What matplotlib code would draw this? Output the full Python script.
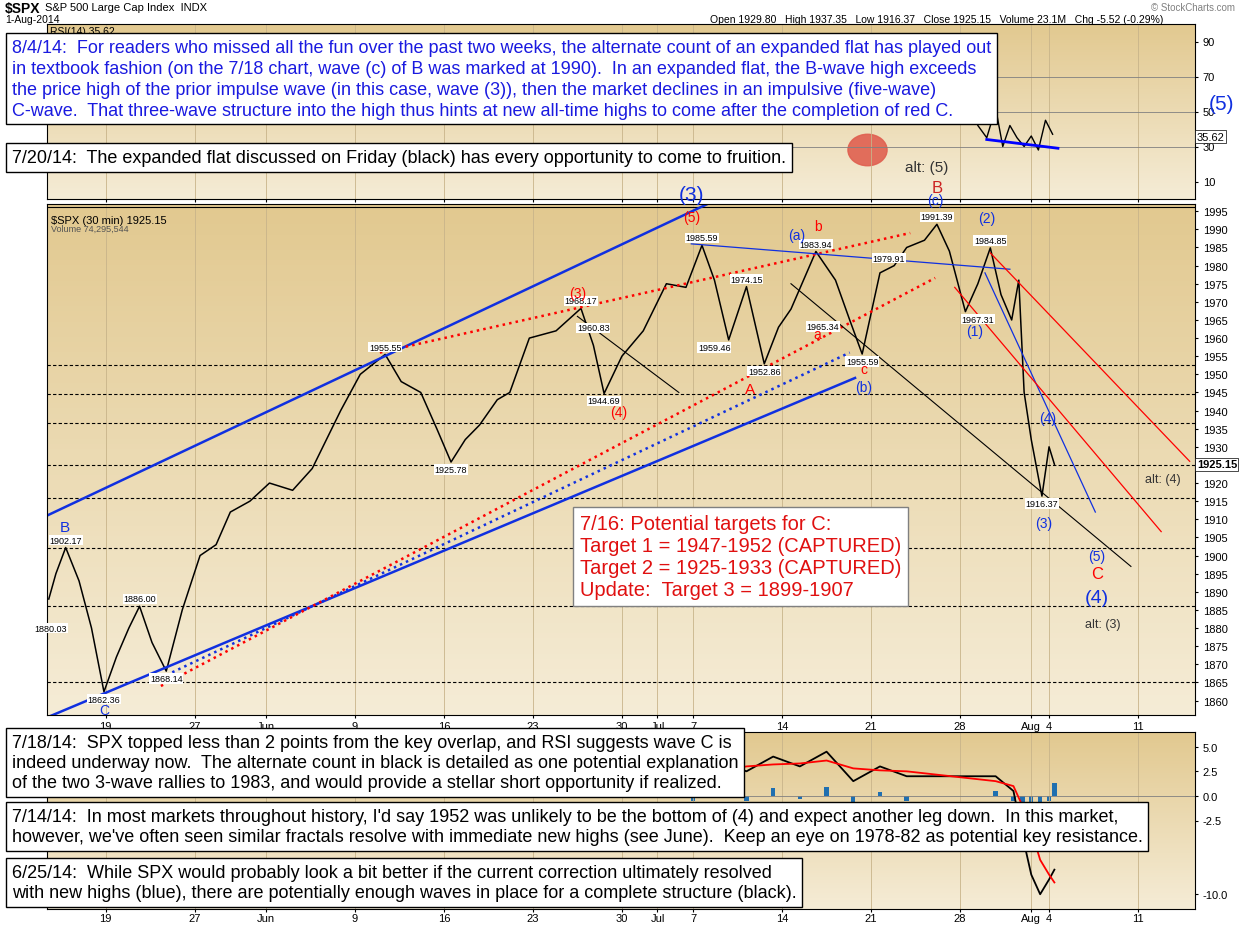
import matplotlib
matplotlib.use("Agg")
import matplotlib.pyplot as plt
import numpy as np
from matplotlib.patches import Ellipse

plt.rcParams['font.family'] = ['Liberation Sans', 'DejaVu Sans']

# price waypoints (trading-day index, price)
px_idx = [0.8, 1.2, 1.75, 2.5, 3.2, 3.9, 4.6, 5.3, 5.9, 6.6, 7.4, 8.3, 9.3, 10.2, 11.0, 12.1,
          13.2, 14.5, 15.6, 17.2, 18.3, 19.7, 20.6, 21.7, 22.6, 23.4, 24.2, 25.0, 26.0, 26.7,
          27.8, 29.3, 30.7, 31.4, 32.0, 33.0, 34.2, 35.5, 36.6, 37.5, 38.2, 39.0, 40.0, 41.0,
          41.8, 42.5, 43.9, 45.0, 45.8, 46.5, 47.5, 48.3, 49.0, 50.0, 50.7, 51.4, 52.3, 53.0,
          53.7, 54.3, 54.9, 55.3, 55.6, 56.0, 56.6, 57.0, 57.3]
px_val = [1888, 1895, 1902.2, 1893, 1880, 1862.4, 1872, 1880, 1886, 1876, 1868.1, 1885, 1900,
          1903, 1912, 1915, 1920, 1918, 1924, 1940, 1950, 1955.5, 1948, 1945, 1935, 1925.8,
          1932, 1936, 1943, 1945, 1960, 1962, 1968.2, 1958, 1944.7, 1955, 1962, 1975, 1974,
          1985.6, 1976, 1959.5, 1974.2, 1952.9, 1963, 1968, 1983.9, 1976, 1965, 1955.6, 1978,
          1980, 1985, 1987, 1991.4, 1984, 1967.3, 1975, 1984.9, 1972, 1965, 1976, 1945, 1932,
          1916.4, 1930, 1925.2]

rsi_idx = [53.0, 53.5, 54.0, 54.4, 54.8, 55.2, 55.6, 56.0, 56.4, 56.8, 57.2]
rsi_val = [42, 35, 52, 30, 42, 35, 30, 36, 28, 45, 37]

macd_idx = [37, 38.5, 40, 41.5, 43, 44.5, 46, 47.5, 49, 54, 55, 55.5, 56, 56.5, 57, 57.3]
macd_val = [1.0, 3.5, 2.5, 4.0, 3.0, 4.5, 1.5, 3.0, 2.0, 2.0, 0.5, -4.0, -8.0, -10.0, -8.5, -7.5]
sig_val = [1.5, 2.5, 3.0, 3.2, 3.3, 3.6, 2.8, 2.6, 2.5, 1.5, 1.0, -1.0, -3.5, -6.5, -8.0, -8.8]

tick_pos = [4, 9, 13, 18, 23, 28, 33, 35, 37, 42, 47, 52, 56, 57, 62]
tick_lab = ['19', '27', 'Jun', '9', '16', '23', '30', 'Jul', '7', '14', '21', '28', 'Aug', '4', '11']

W, H = 1240, 928
fig = plt.figure(figsize=(12.4, 9.28), dpi=100)
fig.patch.set_facecolor('white')
XL = (0.7, 65.2)


def axes_px(l, t, r, b):
    return fig.add_axes([l / W, 1 - b / H, (r - l) / W, (b - t) / H])


def bg(ax, ylo, yhi):
    grad = np.linspace(0, 1, 100).reshape(-1, 1)
    ax.imshow(grad, extent=[XL[0], XL[1], ylo, yhi], aspect='auto', origin='lower',
              cmap=matplotlib.colors.LinearSegmentedColormap.from_list('g', ['#f5ecd6', '#e2c990']),
              zorder=0)


ax_rsi = axes_px(47, 25, 1195, 200)
ax = axes_px(47, 205, 1195, 716)
ax_m = axes_px(47, 733, 1195, 910)

for a in (ax_rsi, ax, ax_m):
    a.set_xlim(*XL)
    a.yaxis.tick_right()
    a.tick_params(labelsize=8, length=2)
    a.set_xticks(tick_pos)
    a.grid(axis='x', color='#c8b48a', lw=0.6)

# RSI
bg(ax_rsi, 0, 100)
ax_rsi.set_ylim(0, 100)
ax_rsi.set_yticks([10, 30, 50, 70, 90])
for lv in (30, 50, 70):
    ax_rsi.axhline(lv, color='gray', lw=0.6)
ax_rsi.plot(rsi_idx, rsi_val, color='black', lw=1)
ax_rsi.plot([53.5, 57.5], [34, 29], color='blue', lw=2)
ax_rsi.add_patch(Ellipse((46.8, 28), 2.2, 18, color='#e06050', alpha=0.9))
ax_rsi.set_xticklabels([])
ax_rsi.text(65.3, 35.6, '35.62', fontsize=8, va='center', ha='left',
            bbox=dict(fc='white', ec='black', lw=0.5, pad=1))

# main price
bg(ax, 1856, 1997)
ax.set_ylim(1856, 1997)
ax.set_yticks(range(1860, 1996, 5))
ax.set_xticklabels(tick_lab, fontsize=8)
ax.tick_params(axis='x', pad=2)
for lv in (1952.5, 1944.5, 1936.5, 1925, 1916, 1902, 1886, 1865):
    ax.axhline(lv, color='black', ls='--', lw=0.8, dashes=(3, 2))
ax.axhline(1996.3, color='black', lw=0.8)
ax.plot(px_idx, px_val, color='black', lw=1.1)

ax.plot([-1.9, 39.1], [1905, 2000], color='#1030e0', lw=1.8)
ax.plot([0.3, 46.1], [1854.5, 1949], color='#1030e0', lw=1.8)
ax.plot([7.4, 45.8], [1867, 1956], color='#1030e0', lw=1.8, ls=':')
ax.plot([7.1, 50.6], [1864, 1976.6], color='red', lw=1.8, ls=':')
ax.plot([19.4, 49.2], [1956, 1989], color='red', lw=1.8, ls=':')
ax.plot([36.9, 54.8], [1986, 1979], color='#1030e0', lw=0.9)
ax.plot([53.4, 59.6], [1978, 1912], color='#1030e0', lw=0.9)
ax.plot([42.5, 61.6], [1975, 1897], color='black', lw=0.8)
ax.plot([30.5, 36.2], [1966, 1945], color='black', lw=0.8)
ax.plot([53.7, 64.9], [1983.5, 1926], color='red', lw=0.9)
ax.plot([51.7, 63.3], [1974, 1906.6], color='red', lw=0.9)

# price boxes
boxes = [(1.75, 1902.2, '1902.17', 'bottom'), (3.9, 1862.4, '1862.36', 'top'),
         (5.9, 1886, '1886.00', 'bottom'), (7.4, 1868.1, '1868.14', 'top'),
         (19.7, 1955.5, '1955.55', 'bottom'), (23.4, 1925.8, '1925.78', 'top'),
         (30.7, 1968.2, '1968.17', 'bottom'), (31.4, 1960.8, '1960.83', 'bottom'),
         (32.0, 1944.7, '1944.69', 'top'), (37.5, 1985.6, '1985.59', 'bottom'),
         (38.2, 1959.5, '1959.46', 'top'), (40.0, 1974.2, '1974.15', 'bottom'),
         (41.0, 1952.9, '1952.86', 'top'), (43.9, 1983.9, '1983.94', 'bottom'),
         (44.3, 1965.3, '1965.34', 'top'), (46.5, 1955.6, '1955.59', 'top'),
         (48.0, 1980, '1979.91', 'bottom'), (50.7, 1991.4, '1991.39', 'bottom'),
         (53.7, 1984.9, '1984.85', 'bottom'), (53.0, 1967.3, '1967.31', 'top'),
         (56.6, 1916.4, '1916.37', 'top'), (0.9, 1880.0, '1880.03', 'center')]
for x, y, s, va in boxes:
    ax.text(x, y + (0.8 if va == 'bottom' else -0.8 if va == 'top' else 0), s, fontsize=6.5,
            ha='center', va=va, bbox=dict(fc='white', ec='none', pad=0.5))

lab = [(36.9, 1999.5, '(3)', '#1030e0', 15), (36.9, 1993.5, '(5)', 'red', 10),
       (30.5, 1972.5, '(3)', 'red', 10), (32.8, 1939.5, '(4)', 'red', 10),
       (40.2, 1946, 'A', 'red', 11), (1.7, 1908, 'B', '#1030e0', 11),
       (3.9, 1857.5, 'C', '#1030e0', 10), (42.8, 1988.5, '(a)', '#1030e0', 10),
       (44.0, 1991, 'b', 'red', 10), (44.0, 1961, 'a', 'red', 10),
       (46.6, 1951.5, 'c', 'red', 10), (46.6, 1946.5, '(b)', '#1030e0', 10),
       (50.6, 1998, '(c)', '#1030e0', 10), (53.5, 1993, '(2)', '#1030e0', 10),
       (52.8, 1962, '(1)', '#1030e0', 10), (56.9, 1938, '(4)', '#1030e0', 10),
       (56.7, 1909, '(3)', '#1030e0', 10), (59.7, 1900, '(5)', '#1030e0', 10),
       (59.7, 1895, 'C', 'red', 12), (59.7, 1888.5, '(4)', '#1030e0', 14),
       (63.4, 1921, 'alt: (4)', '#333333', 9), (60.0, 1881, 'alt: (3)', '#333333', 9)]
for x, y, s, c, fs in lab:
    ax.text(x, y, s, color=c, fontsize=fs, ha='center', va='center', clip_on=False)
ax.text(0.9, 1994, '$SPX (30 min) 1925.15', fontsize=8, va='top')
ax.text(0.9, 1991.5, 'Volume 74,295,544', fontsize=6.5, va='top', color='#555555')
ax.text(65.3, 1925.15, '1925.15', fontsize=8, va='center', ha='left', fontweight='bold',
        bbox=dict(fc='white', ec='black', lw=0.5, pad=1))

# MACD
bg(ax_m, -11.5, 6.5)
ax_m.set_ylim(-11.5, 6.5)
ax_m.set_yticks([5.0, 2.5, 0.0, -2.5, -10.0])
ax_m.set_yticklabels(['5.0', '2.5', '0.0', '-2.5', '-10.0'])
ax_m.axhline(0, color='gray', lw=0.6)
ax_m.bar(macd_idx, np.array(macd_val) - np.array(sig_val), width=0.25, color='#1f6fb0')
ax_m.plot(macd_idx, macd_val, color='black', lw=1.3)
ax_m.plot(macd_idx, sig_val, color='red', lw=1.3)
ax_m.set_xticklabels(tick_lab, fontsize=8)
ax_m.tick_params(axis='x', pad=1)

# header
fig.text(5 / W, 1 - 2 / H, '$SPX', fontsize=10, fontweight='bold', va='top')
fig.text(45 / W, 1 - 3 / H, 'S&P 500 Large Cap Index  INDX', fontsize=8, va='top')
fig.text(5 / W, 1 - 15 / H, '1-Aug-2014', fontsize=7.5, va='top')
fig.text(50 / W, 1 - 27 / H, 'RSI(14) 35.62', fontsize=7.5, va='top')
fig.text(710 / W, 1 - 15 / H,
         'Open 1929.80   High 1937.35   Low 1916.37   Close 1925.15   Volume 23.1M   Chg -5.52 (-0.29%)',
         fontsize=7.5, va='top')
fig.text(1235 / W, 1 - 3 / H, '© StockCharts.com', fontsize=7, va='top', ha='right', color='gray')
fig.text(1222 / W, 1 - 105 / H, '(5)', fontsize=15, color='#1030e0', ha='center', va='center')

# comment boxes
bx = dict(fc='white', ec='black', lw=1, pad=4)
fs = 13
fig.text(12 / W, 1 - 40 / H,
         "8/4/14:  For readers who missed all the fun over the past two weeks, the alternate count of an expanded flat has played out\n"
         "in textbook fashion (on the 7/18 chart, wave (c) of B was marked at 1990).  In an expanded flat, the B-wave high exceeds\n"
         "the price high of the prior impulse wave (in this case, wave (3)), then the market declines in an impulsive (five-wave)\n"
         "C-wave.  That three-wave structure into the high thus hints at new all-time highs to come after the completion of red C.",
         fontsize=fs, color='#1a1ae0', va='top', linespacing=1.3, bbox=bx)
fig.text(12 / W, 1 - 150 / H,
         "7/20/14:  The expanded flat discussed on Friday (black) has every opportunity to come to fruition.",
         fontsize=fs, va='top', bbox=bx)
fig.text(12 / W, 1 - 735 / H,
         "7/18/14:  SPX topped less than 2 points from the key overlap, and RSI suggests wave C is\n"
         "indeed underway now.  The alternate count in black is detailed as one potential explanation\n"
         "of the two 3-wave rallies to 1983, and would provide a stellar short opportunity if realized.",
         fontsize=fs, va='top', linespacing=1.25, bbox=bx)
fig.text(12 / W, 1 - 809 / H,
         "7/14/14:  In most markets throughout history, I'd say 1952 was unlikely to be the bottom of (4) and expect another leg down.  In this market,\n"
         "however, we've often seen similar fractals resolve with immediate new highs (see June).  Keep an eye on 1978-82 as potential key resistance.",
         fontsize=fs, va='top', linespacing=1.25, bbox=bx)
fig.text(12 / W, 1 - 865 / H,
         "6/25/14:  While SPX would probably look a bit better if the current correction ultimately resolved\n"
         "with new highs (blue), there are potentially enough waves in place for a complete structure (black).",
         fontsize=fs, va='top', linespacing=1.25, bbox=bx)
fig.text(580 / W, 1 - 515 / H,
         "7/16: Potential targets for C:\nTarget 1 = 1947-1952 (CAPTURED)\n"
         "Target 2 = 1925-1933 (CAPTURED)\nUpdate:  Target 3 = 1899-1907",
         fontsize=14.5, color='#e01010', va='top', linespacing=1.2,
         bbox=dict(fc='white', ec='gray', lw=1, pad=5))
fig.text(905 / W, 1 - 172 / H, 'alt: (5)', fontsize=11, color='#333333')
fig.text(932 / W, 1 - 193 / H, 'B', fontsize=12, color='#cc2222')

fig.savefig('out.png', dpi=100)
